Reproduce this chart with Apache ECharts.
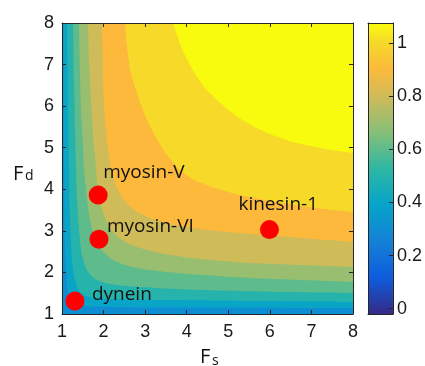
<!DOCTYPE html>
<html><head><meta charset="utf-8">
<script src="https://cdn.jsdelivr.net/npm/echarts@6/dist/echarts.min.js"></script>
<style>html,body{margin:0;padding:0;background:#fff}#c{width:425px;height:366px}</style>
</head><body><div id="c"></div>
<script>
// ---- data ----
const xTicks = [1, 2, 3, 4, 5, 6, 7, 8];
const yTicks = [1, 2, 3, 4, 5, 6, 7, 8];
const cbarTicks = [0, 0.2, 0.4, 0.6, 0.8, 1];
const cbarRange = [-0.02, 1.075];
// colour value of the region below the lowest contour, then of each region above a contour
const baseValue = 0.3;
const bandValues = [0.4, 0.5, 0.6, 0.7, 0.8, 0.9, 1.0, 1.075];
// contour boundaries, [Fs, Fd], from top edge to right edge
const contour1 = [[1.036,8.0],[1.048,4.945],[1.072,2.540],[1.120,1.698],[1.192,1.385],[1.337,1.241],[1.674,1.180],[3.117,1.156],[8.0,1.144]];
const contour2 = [[1.120,8.0],[1.144,6.148],[1.168,4.512],[1.192,3.261],[1.241,2.299],[1.313,1.818],[1.433,1.529],[1.674,1.409],[2.155,1.361],[3.357,1.337],[5.522,1.313],[8.0,1.289]];
const contour3 = [[1.265,8.0],[1.289,6.629],[1.313,5.426],[1.337,4.512],[1.361,3.742],[1.409,3.021],[1.481,2.419],[1.601,2.058],[1.794,1.842],[2.155,1.722],[2.876,1.650],[4.320,1.577],[6.244,1.529],[8.0,1.505]];
const contour4 = [[1.409,8.0],[1.433,6.869],[1.457,5.907],[1.505,5.065],[1.529,4.512],[1.577,3.983],[1.650,3.382],[1.770,2.900],[1.914,2.588],[2.155,2.347],[2.515,2.179],[3.117,2.058],[4.079,1.962],[5.522,1.866],[6.725,1.818],[8.0,1.770]];
const contour5 = [[1.625,8.0],[1.650,7.110],[1.698,6.148],[1.746,5.306],[1.818,4.512],[1.866,3.983],[1.962,3.502],[2.155,3.069],[2.443,2.780],[2.876,2.588],[3.478,2.443],[4.320,2.323],[5.522,2.227],[6.725,2.179],[8.0,2.131]];
const contour6 = [[1.962,8.0],[1.974,7.351],[1.986,6.629],[2.010,6.028],[2.058,5.426],[2.106,4.945],[2.179,4.512],[2.299,4.103],[2.491,3.742],[2.756,3.502],[3.117,3.309],[3.598,3.165],[4.320,3.045],[5.282,2.948],[6.484,2.852],[8.0,2.732]];
const contour7 = [[2.52,8.0],[2.56,7.47],[2.64,6.87],[2.76,6.44],[2.90,6.03],[3.07,5.62],[3.29,5.19],[3.53,4.82],[3.84,4.46],[4.20,4.22],[4.68,4.03],[5.28,3.86],[6.00,3.72],[6.97,3.57],[8.0,3.45]];
const contour8 = [[3.67,8.0],[3.79,7.64],[3.93,7.28],[4.15,6.87],[4.42,6.46],[4.80,6.08],[5.23,5.74],[5.64,5.50],[6.05,5.31],[6.48,5.16],[6.84,5.07],[7.45,4.95],[8.0,4.87]];
const contours = [contour1, contour2, contour3, contour4, contour5, contour6, contour7, contour8];
const motorNames = ['myosin-V', 'myosin-VI', 'dynein', 'kinesin-1'];
const motorFs = [1.87, 1.89, 1.31, 5.99];
const motorFd = [3.86, 2.80, 1.31, 3.03];

// ---- styling ----
const labelOffsets = [[5, -23], [8, -13], [17, -7], [-31, -25]];
const parulaStops = [
  [0.00, '#352a87'], [0.125, '#0f5cdd'], [0.25, '#1481d6'], [0.375, '#06a4ca'],
  [0.50, '#2eb7a4'], [0.625, '#87bf77'], [0.75, '#d1bb59'], [0.84, '#fcb93c'],
  [0.93, '#f6d82a'], [1.00, '#f9fb0e']
];
function hex2rgb(h){return [1,3,5].map(i=>parseInt(h.substr(i,2),16));}
function parula(v){
  let t = (v - cbarRange[0]) / (cbarRange[1] - cbarRange[0]);
  t = Math.max(0, Math.min(1, t));
  for (let i = 1; i < parulaStops.length; i++) {
    if (t <= parulaStops[i][0]) {
      const a = parulaStops[i-1], b = parulaStops[i];
      const f = (t - a[0]) / (b[0] - a[0]);
      const ca = hex2rgb(a[1]), cb = hex2rgb(b[1]);
      const c = ca.map((x, k) => Math.round(x + (cb[k] - x) * f));
      return 'rgb(' + c.join(',') + ')';
    }
  }
  return parulaStops[parulaStops.length-1][1];
}
const axisColor = '#262626';
const tickFont = 'Liberation Sans, Arial, sans-serif';
const textFont = 'Open Sans, sans-serif';

const chart = echarts.init(document.getElementById('c'), null, {renderer: 'canvas'});

const bandSeries = contours.map((c, i) => ({
  type: 'line', xAxisIndex: 0, yAxisIndex: 0, data: c,
  symbol: 'none', smooth: 0.25, silent: true,
  lineStyle: {width: 0, color: parula(bandValues[i])},
  areaStyle: {origin: 'end', color: parula(bandValues[i]), opacity: 1},
  z: 2 + i * 0.01
}));

const option = {
  animation: false,
  grid: [
    {left: 62, top: 23, width: 291, height: 291, show: true, backgroundColor: parula(baseValue), borderWidth: 0},
    {left: 368, top: 23, width: 25, height: 291, show: false}
  ],
  xAxis: [
    {gridIndex: 0, type: 'value', min: 1, max: 8, interval: 1, position: 'bottom', z: 10,
     axisLine: {show: true, onZero: false, lineStyle: {color: axisColor, width: 1}},
     axisTick: {show: true, inside: true, length: 4, lineStyle: {color: axisColor}},
     axisLabel: {show: true, margin: 9, color: '#1a1a1a', fontSize: 18, fontFamily: tickFont,
                 customValues: xTicks},
     splitLine: {show: false}},
    {gridIndex: 0, type: 'value', min: 1, max: 8, interval: 1, position: 'top', z: 10,
     axisLine: {show: true, onZero: false, lineStyle: {color: axisColor, width: 1}},
     axisTick: {show: true, inside: true, length: 4, lineStyle: {color: axisColor}},
     axisLabel: {show: false}, splitLine: {show: false}},
    {gridIndex: 1, type: 'value', min: 0, max: 1, position: 'bottom', z: 10,
     axisLine: {show: true, onZero: false, lineStyle: {color: axisColor, width: 1}},
     axisTick: {show: false}, axisLabel: {show: false}, splitLine: {show: false}},
    {gridIndex: 1, type: 'value', min: 0, max: 1, position: 'top', z: 10,
     axisLine: {show: true, onZero: false, lineStyle: {color: axisColor, width: 1}},
     axisTick: {show: false}, axisLabel: {show: false}, splitLine: {show: false}}
  ],
  yAxis: [
    {gridIndex: 0, type: 'value', min: 1, max: 8, interval: 1, position: 'left', z: 10,
     axisLine: {show: true, onZero: false, lineStyle: {color: axisColor, width: 1}},
     axisTick: {show: true, inside: true, length: 4, lineStyle: {color: axisColor}},
     axisLabel: {show: true, margin: 8, color: '#1a1a1a', fontSize: 18, fontFamily: tickFont,
                 customValues: yTicks},
     splitLine: {show: false}},
    {gridIndex: 0, type: 'value', min: 1, max: 8, interval: 1, position: 'right', z: 10,
     axisLine: {show: true, onZero: false, lineStyle: {color: axisColor, width: 1}},
     axisTick: {show: true, inside: true, length: 4, lineStyle: {color: axisColor}},
     axisLabel: {show: false}, splitLine: {show: false}},
    {gridIndex: 1, type: 'value', min: cbarRange[0], max: cbarRange[1], position: 'right', z: 10,
     axisLine: {show: true, onZero: false, lineStyle: {color: axisColor, width: 1}},
     axisTick: {show: true, inside: true, length: 4, customValues: cbarTicks, lineStyle: {color: axisColor}},
     axisLabel: {show: true, margin: 4, color: '#1a1a1a', fontSize: 18, fontFamily: tickFont,
                 customValues: cbarTicks, formatter: v => String(+v.toFixed(2))},
     splitLine: {show: false}},
    {gridIndex: 1, type: 'value', min: cbarRange[0], max: cbarRange[1], position: 'left', z: 10,
     axisLine: {show: true, onZero: false, lineStyle: {color: axisColor, width: 1}},
     axisTick: {show: false}, axisLabel: {show: false}, splitLine: {show: false}}
  ],
  series: bandSeries.concat([
    {type: 'scatter', xAxisIndex: 0, yAxisIndex: 0, z: 5, symbolSize: 19, silent: true,
     itemStyle: {color: '#ff0000', opacity: 1},
     data: motorNames.map((n, i) => ({
       value: [motorFs[i], motorFd[i]], name: n,
       label: {show: true, position: 'inside', align: 'left', verticalAlign: 'middle',
               offset: labelOffsets[i], formatter: n, color: '#111', fontSize: 19, fontFamily: textFont}
     }))},
    {type: 'custom', xAxisIndex: 2, yAxisIndex: 2, silent: true, z: 2,
     data: [[0, cbarRange[0], 1, cbarRange[1]]],
     renderItem: function (params, api) {
       const p0 = api.coord([api.value(0), api.value(1)]);
       const p1 = api.coord([api.value(2), api.value(3)]);
       return {type: 'rect',
         shape: {x: p0[0], y: p1[1], width: p1[0] - p0[0], height: p0[1] - p1[1]},
         style: {fill: new echarts.graphic.LinearGradient(0, 1, 0, 0,
           parulaStops.map(s => ({offset: s[0], color: s[1]})))}};
     }}
  ]),
  graphic: [
    {type: 'text', left: 200, top: 347, style: {text: 'F', font: '20px ' + textFont, fill: '#111'}},
    {type: 'text', left: 212, top: 354, style: {text: 's', font: '14px ' + textFont, fill: '#111'}},
    {type: 'text', left: 13, top: 164, style: {text: 'F', font: '20px ' + textFont, fill: '#111'}},
    {type: 'text', left: 25, top: 169, style: {text: 'd', font: '14px ' + textFont, fill: '#111'}}
  ]
};
chart.setOption(option);
</script>
</body></html>
